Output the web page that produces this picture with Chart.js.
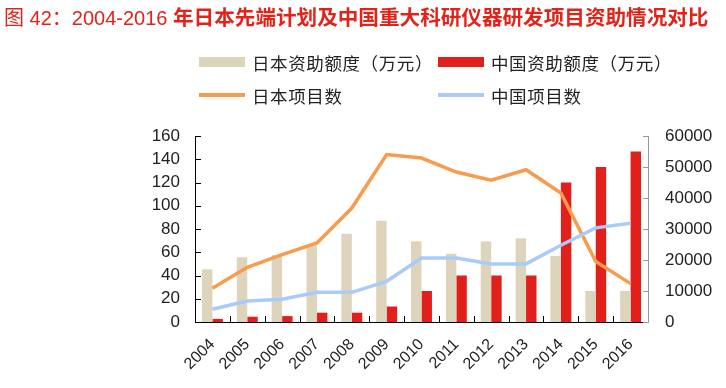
<!DOCTYPE html>
<html>
<head>
<meta charset="utf-8">
<script src="https://cdn.jsdelivr.net/npm/chart.js@4/dist/chart.umd.min.js"></script>
<style>
  body { margin: 0; background: #fff; }
  #wrap { position: relative; width: 726px; height: 388px; }
  #chart { position: absolute; left: 0; top: 0; }
  #title {
    position: absolute; left: 4px; top: 1px; white-space: nowrap;
    color: #e2231a; font: 20px 'Liberation Sans', 'Noto Sans CJK SC';
  }
  #title b { font-family: 'Noto Sans CJK SC'; font-weight: bold; font-size: 20.6px; }
  #legend {
    position: absolute; left: 199px; top: 51px;
    display: grid; grid-template-columns: 239px 239px; row-gap: 11px;
  }
  .item { display: flex; align-items: center; height: 22px; color: #222;
    font: 17.5px 'Noto Sans CJK SC'; white-space: nowrap; letter-spacing: 0.6px; }
  .sw { width: 46px; margin-right: 7px; }
</style>
</head>
<body>
<div id="wrap">
  <canvas id="chart" width="726" height="388"></canvas>
  <div id="title">图 42：2004-2016 <b>年日本先端计划及中国重大科研仪器研发项目资助情况对比</b></div>
  <div id="legend"></div>
</div>
<script>
// 数据
const years = ['2004', '2005', '2006', '2007', '2008', '2009', '2010', '2011', '2012', '2013', '2014', '2015', '2016'];
const japanFunding = [17000, 20900, 21600, 24800, 28500, 32700, 26000, 22000, 26000, 27000, 21300, 10000, 10000];
const chinaFunding = [1000, 1700, 1900, 3000, 3000, 5000, 10000, 15000, 15000, 15000, 45000, 50000, 55000];
const japanProjects = [29, 47, 58, 68, 98, 144, 141, 129, 122, 131, 111, 52, 33];
const chinaProjects = [11, 18, 19.5, 25.5, 25.5, 35, 55, 55, 50, 50, 66, 81, 85];

const leftTicks = [0, 20, 40, 60, 80, 100, 120, 140, 160];
const rightTicks = [0, 10000, 20000, 30000, 40000, 50000, 60000];

const tickFont = { family: "'Liberation Sans', Arial", size: 17 };
const tickColor = '#222';

// 内向刻度线
const innerTicks = {
  id: 'innerTicks',
  afterDraw(chart) {
    const { ctx, chartArea: a, scales: { x, y, y1 } } = chart;
    ctx.save();
    ctx.lineWidth = 1;
    ctx.strokeStyle = '#000';
    ctx.beginPath();
    leftTicks.forEach(v => {
      const py = Math.round(y.getPixelForValue(v)) + 0.5;
      ctx.moveTo(a.left, py); ctx.lineTo(a.left + 6, py);
    });
    for (let i = 1; i < years.length; i++) {
      const px = Math.round((x.getPixelForTick(i - 1) + x.getPixelForTick(i)) / 2) + 0.5;
      ctx.moveTo(px, a.bottom); ctx.lineTo(px, a.bottom - 6);
    }
    ctx.stroke();
    ctx.strokeStyle = '#999';
    ctx.beginPath();
    rightTicks.forEach(v => {
      const py = Math.round(y1.getPixelForValue(v)) + 0.5;
      ctx.moveTo(a.right - 5, py); ctx.lineTo(a.right, py);
    });
    ctx.stroke();
    ctx.restore();
  }
};

const chart = new Chart(document.getElementById('chart'), {
  data: {
    labels: years,
    datasets: [
      {
        type: 'line', label: '日本项目数', data: japanProjects, yAxisID: 'y',
        borderColor: '#f89b4d', borderWidth: 3.5, pointRadius: 0, tension: 0, order: 1
      },
      {
        type: 'line', label: '中国项目数', data: chinaProjects, yAxisID: 'y',
        borderColor: '#a9cbfa', borderWidth: 3.5, pointRadius: 0, tension: 0, order: 0
      },
      {
        type: 'bar', label: '日本资助额度（万元）', data: japanFunding, yAxisID: 'y1',
        backgroundColor: '#ded4bc', categoryPercentage: 0.6, barPercentage: 1, order: 2
      },
      {
        type: 'bar', label: '中国资助额度（万元）', data: chinaFunding, yAxisID: 'y1',
        backgroundColor: '#e2201b', categoryPercentage: 0.6, barPercentage: 1, order: 2
      }
    ]
  },
  options: {
    responsive: false,
    animation: false,
    layout: { padding: { top: 136, left: 0, right: 0, bottom: 0 } },
    plugins: { legend: { display: false }, tooltip: { enabled: false } },
    scales: {
      x: {
        grid: { display: false, drawTicks: false },
        border: { color: '#000', width: 1 },
        ticks: { autoSkip: false, maxRotation: 45, minRotation: 45, padding: 13, font: { family: "'Liberation Sans', Arial", size: 16 }, color: tickColor },
        afterFit: s => { s.height = 66; }
      },
      y: {
        position: 'left', min: 0, max: 160,
        grid: { display: false, drawTicks: false },
        border: { color: '#000', width: 1 },
        ticks: { stepSize: 20, autoSkip: false, padding: 15, font: tickFont, color: tickColor },
        afterFit: s => { s.width = 195; }
      },
      y1: {
        position: 'right', min: 0, max: 60000,
        grid: { display: false, drawTicks: false },
        border: { color: '#999', width: 1 },
        ticks: { stepSize: 10000, autoSkip: false, padding: 17, font: tickFont, color: tickColor, callback: v => String(v) },
        afterFit: s => { s.width = 78; }
      }
    }
  },
  plugins: [innerTicks]
});

// 图例（两列两行）
const legendOrder = [2, 3, 0, 1];
const legend = document.getElementById('legend');
legendOrder.forEach(i => {
  const ds = chart.data.datasets[i];
  const item = document.createElement('div');
  item.className = 'item';
  const sw = document.createElement('span');
  sw.className = 'sw';
  if (ds.type === 'bar') {
    sw.style.height = '10px';
    sw.style.background = ds.backgroundColor;
  } else {
    sw.style.height = '4px';
    sw.style.background = ds.borderColor;
  }
  item.appendChild(sw);
  item.appendChild(document.createTextNode(ds.label));
  legend.appendChild(item);
});
</script>
</body>
</html>
